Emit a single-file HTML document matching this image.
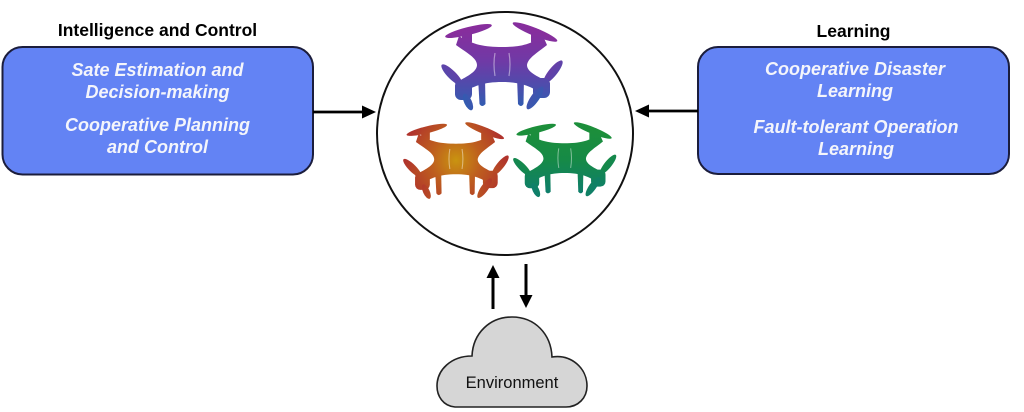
<!DOCTYPE html>
<html>
<head>
<meta charset="utf-8">
<style>
html,body{margin:0;padding:0;background:#fff;}
body{width:1024px;height:412px;overflow:hidden;}
svg{display:block;}
text{font-family:"Liberation Sans",Arial,sans-serif;}
</style>
</head>
<body>
<svg width="1024" height="412" viewBox="0 0 1024 412" xmlns="http://www.w3.org/2000/svg">
<defs>
  <linearGradient id="gP" gradientUnits="userSpaceOnUse" x1="0" y1="0" x2="0" y2="88">
    <stop offset="0" stop-color="#8d2a9a"/>
    <stop offset="0.45" stop-color="#6f3aa6"/>
    <stop offset="1" stop-color="#2c5fb2"/>
  </linearGradient>
  <radialGradient id="gO" gradientUnits="userSpaceOnUse" cx="62" cy="44" r="62">
    <stop offset="0" stop-color="#c99410"/>
    <stop offset="0.45" stop-color="#be5f1e"/>
    <stop offset="1" stop-color="#b0332c"/>
  </radialGradient>
  <linearGradient id="gG" gradientUnits="userSpaceOnUse" x1="0" y1="0" x2="0" y2="88">
    <stop offset="0" stop-color="#1e9038"/>
    <stop offset="0.5" stop-color="#168a46"/>
    <stop offset="1" stop-color="#0e7d70"/>
  </linearGradient>
  <g id="drone">
    <ellipse cx="28.5" cy="9" rx="24" ry="4" transform="rotate(-14 28.5 9)"/>
    <ellipse cx="95" cy="10" rx="24" ry="4" transform="rotate(22 95 10)"/>
    <rect x="22" y="7" width="10" height="16" rx="3.5"/>
    <rect x="91" y="7" width="10" height="16" rx="3.5"/>
    <path d="M19,14 C33,23 45,25 62,25 C79,25 90,23 103,14 L107,23 C97,31 88,36 87,43 C87,50 97,54 108,60 L102,72 C91,64 80,60 62,60 C44,60 33,64 21,72 L15,61 C26,55 37,50 37,43 C37,36 27,31 16,23 Z"/>
    <ellipse cx="12" cy="53" rx="14.5" ry="4.2" transform="rotate(45 12 53)"/>
    <ellipse cx="113" cy="50" rx="14.5" ry="4.2" transform="rotate(-51 113 50)"/>
    <rect x="15" y="58" width="17" height="20" rx="6"/>
    <rect x="93" y="56" width="17" height="20" rx="6"/>
    <ellipse cx="28" cy="80" rx="9" ry="3.8" transform="rotate(65 28 80)"/>
    <ellipse cx="95" cy="76" rx="13.5" ry="4.2" transform="rotate(-55 95 76)"/>
    <path d="M38,55 L45,55 L45.5,82 Q42,86 39.5,82 Z"/>
    <path d="M77,55 L84,55 L83.5,82 Q81,86 78,82 Z"/>
    <path d="M55,31 Q53,42 55,54 M69,31 Q71,42 69,54" fill="none" stroke="#ffffff" stroke-opacity="0.45" stroke-width="1.2"/>
  </g>
</defs>

<!-- Left box -->
<text x="157.5" y="36" text-anchor="middle" font-size="17.5" font-weight="bold" fill="#000">Intelligence and Control</text>
<rect x="2.5" y="47" width="310.5" height="127.5" rx="20" ry="20" fill="#6383f4" stroke="#1b1d3c" stroke-width="2"/>
<g font-size="18" font-weight="bold" font-style="italic" fill="#f4f5fb" text-anchor="middle">
  <text x="157.5" y="76">Sate Estimation and</text>
  <text x="157.5" y="98">Decision-making</text>
  <text x="157.5" y="131">Cooperative Planning</text>
  <text x="157.5" y="153">and Control</text>
</g>

<!-- Right box -->
<text x="853.5" y="37" text-anchor="middle" font-size="17.5" font-weight="bold" fill="#000">Learning</text>
<rect x="698" y="47" width="311" height="127" rx="20" ry="20" fill="#6383f4" stroke="#1b1d3c" stroke-width="2"/>
<g font-size="18" font-weight="bold" font-style="italic" fill="#f4f5fb" text-anchor="middle">
  <text x="855" y="75">Cooperative Disaster</text>
  <text x="855" y="97">Learning</text>
  <text x="856" y="133">Fault-tolerant Operation</text>
  <text x="856" y="155">Learning</text>
</g>

<!-- Arrows horizontal -->
<line x1="313" y1="112" x2="364" y2="112" stroke="#000" stroke-width="2.7"/>
<polygon points="376,112 362,105.5 362,118.5" fill="#000"/>
<line x1="698" y1="111" x2="647" y2="111" stroke="#000" stroke-width="2.7"/>
<polygon points="635,111 649,104.5 649,117.5" fill="#000"/>

<!-- Circle -->
<ellipse cx="505" cy="133.5" rx="128" ry="121.5" fill="#fff" stroke="#111" stroke-width="2"/>

<!-- Drones -->
<use href="#drone" fill="url(#gP)" transform="translate(440 22)"/>
<use href="#drone" fill="url(#gO)" transform="translate(402 122) scale(0.87)"/>
<use href="#drone" fill="url(#gG)" transform="translate(512 122) scale(0.85)"/>

<!-- Vertical arrows -->
<line x1="493" y1="309" x2="493" y2="276" stroke="#000" stroke-width="3"/>
<polygon points="493,265 486.5,278 499.5,278" fill="#000"/>
<line x1="526" y1="264" x2="526" y2="297" stroke="#000" stroke-width="3"/>
<polygon points="526,308 519.5,295 532.5,295" fill="#000"/>

<!-- Cloud -->
<path d="M455,407 C443,406 437,396 437,386 C437,370 451,356 472,356 C473,333 490,317 512,317 C535,317 551,334 552,357 C571,354 587,368 587,386 C587,398 578,407 566,407 Z" fill="#d6d6d6" stroke="#222" stroke-width="1.6"/>
<text x="512" y="388" text-anchor="middle" font-size="16.5" fill="#111">Environment</text>
</svg>
</body>
</html>
